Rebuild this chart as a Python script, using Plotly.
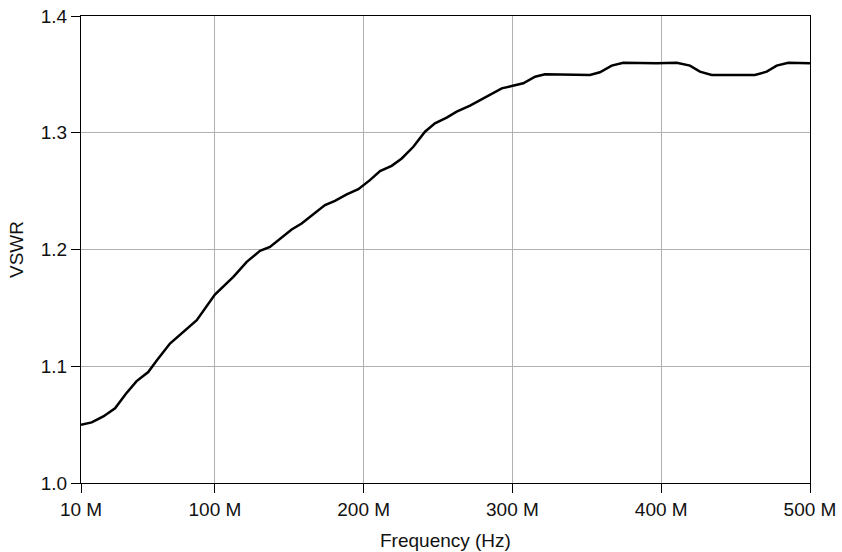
import plotly.graph_objects as go

freq_mhz = [10, 17.2, 25, 32.9, 40.2, 47.4, 55.2, 60.9, 69.8, 81, 87.8, 100,
            112.4, 121.4, 130.3, 137, 143.8, 151.6, 158.3, 166.1, 174, 180.7,
            188.6, 196.4, 204.2, 211, 218.8, 225.6, 233.4, 241.2, 247.9, 255.8,
            262.5, 271.5, 278.2, 284.9, 292.8, 299.5, 307.3, 315.2, 321.9,
            352.1, 358.8, 366.7, 374.5, 396.9, 410.4, 419.3, 426, 433.9,
            463, 470.9, 477.6, 485.4, 500]
vswr = [1.0499, 1.0519, 1.057, 1.064, 1.0765, 1.0873, 1.095, 1.105, 1.1194,
        1.132, 1.1395, 1.1614, 1.1765, 1.1894, 1.1988, 1.2022, 1.2088, 1.2171,
        1.2223, 1.230, 1.238, 1.2417, 1.2472, 1.2517, 1.2594, 1.2672, 1.2717,
        1.278, 1.288, 1.3009, 1.308, 1.3129, 1.318, 1.3232, 1.328, 1.3323,
        1.338, 1.340, 1.3424, 1.348, 1.350, 1.3495, 1.3518, 1.3575, 1.360,
        1.3595, 1.360, 1.3575, 1.3523, 1.3495, 1.3495, 1.3523, 1.3575, 1.360,
        1.3595]

x_tickvals = [10, 100, 200, 300, 400, 500]
x_ticktext = ["10 M", "100 M", "200 M", "300 M", "400 M", "500 M"]
y_tickvals = [1.0, 1.1, 1.2, 1.3, 1.4]
y_ticktext = ["1.0", "1.1", "1.2", "1.3", "1.4"]
x_title = "Frequency (Hz)"
y_title = "VSWR"

fig = go.Figure()
fig.add_trace(go.Scatter(x=freq_mhz, y=vswr, mode="lines",
                         line=dict(color="black", width=2.5),
                         showlegend=False, hoverinfo="skip"))

font = dict(family="Liberation Sans, Arial, sans-serif", size=19, color="#111")

fig.update_layout(
    width=842, height=552,
    margin=dict(l=81, r=32, t=16, b=69),
    paper_bgcolor="white", plot_bgcolor="white",
    font=font,
    xaxis=dict(range=[10, 500], tickvals=x_tickvals, ticktext=x_ticktext,
               showgrid=True, gridcolor="#b0b0b0", gridwidth=1,
               showline=True, linecolor="black", linewidth=1, mirror=True,
               ticks="outside", ticklen=9, tickcolor="black",
               zeroline=False, tickfont=font, automargin=False),
    yaxis=dict(range=[1.0, 1.4], tickvals=y_tickvals, ticktext=y_ticktext,
               showgrid=True, gridcolor="#b0b0b0", gridwidth=1,
               showline=True, linecolor="black", linewidth=1, mirror=True,
               ticks="outside", ticklen=9, tickcolor="black",
               zeroline=False, tickfont=font, automargin=False),
    annotations=[
        dict(text=x_title, xref="paper", yref="paper", x=0.5, y=0,
             xanchor="center", yanchor="middle", yshift=-57,
             showarrow=False, font=font),
        dict(text=y_title, xref="paper", yref="paper", x=0, y=0.5,
             xanchor="center", yanchor="middle", xshift=-64.5,
             textangle=-90, showarrow=False, font=font),
    ],
)

fig.write_html("out.html")
